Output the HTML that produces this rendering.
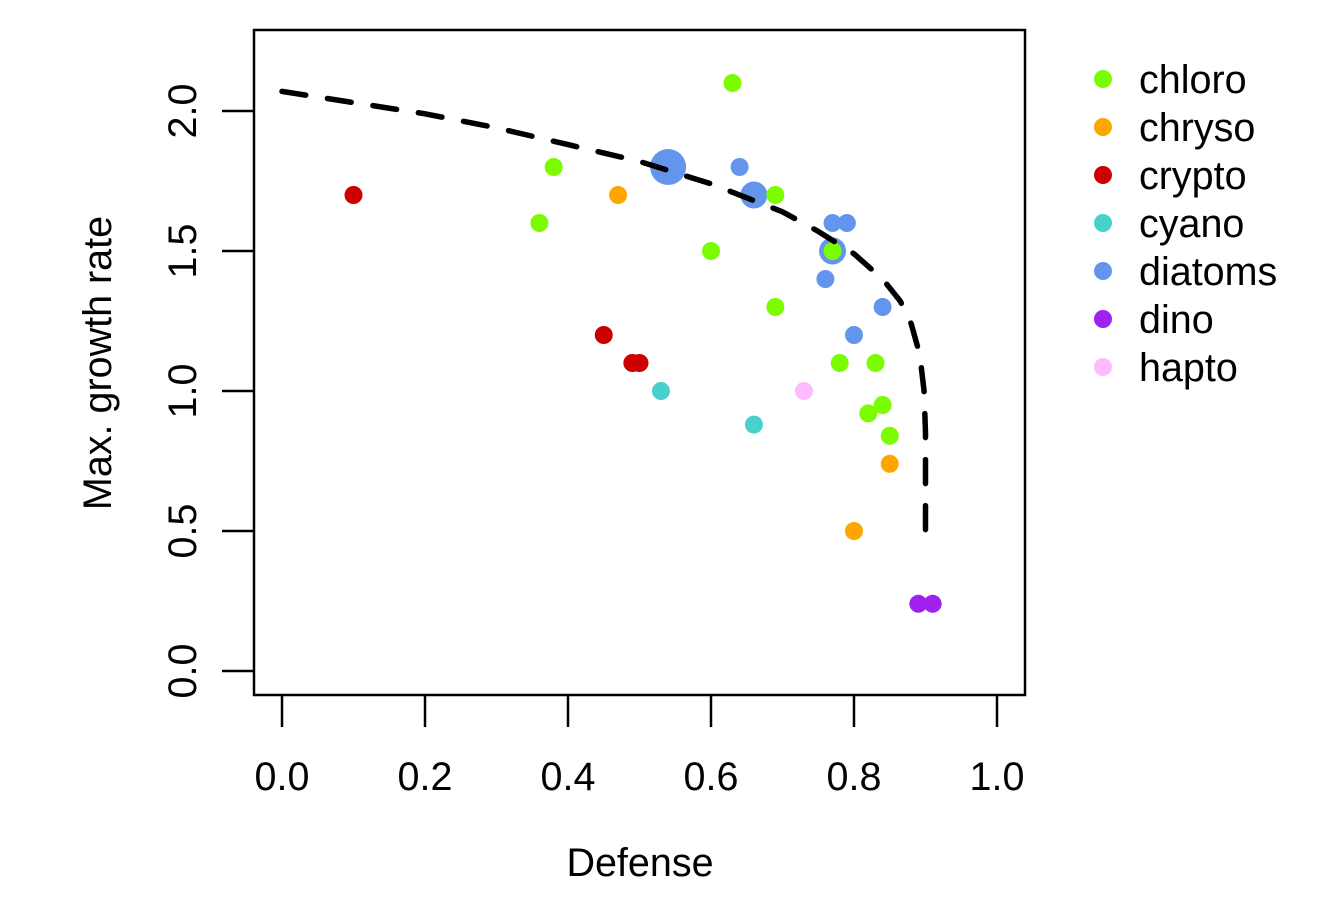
<!DOCTYPE html>
<html><head><meta charset="utf-8"><style>
body{margin:0;background:#fff;}
svg text{font-family:"Liberation Sans",Arial,sans-serif;fill:#000;}
</style></head><body>
<svg id="chart" width="1320" height="906" viewBox="0 0 1320 906" xmlns="http://www.w3.org/2000/svg">
<rect width="1320" height="906" fill="#fff"/>
<g id="marks"></g>
<g id="axes"></g>
<rect x="254" y="30" width="771" height="665" fill="none" stroke="#000" stroke-width="2.5"/>
<text x="640" y="876" font-size="39.5" text-anchor="middle">Defense</text>
<text transform="translate(111,363) rotate(-90)" font-size="39.5" text-anchor="middle">Max. growth rate</text>
<g id="legend"></g>
</svg>
<script>
const groups=["chloro","chryso","crypto","cyano","diatoms","dino","hapto"];
const groupColors=["#7CFC00","#FFA500","#CD0000","#48D1CC","#6495ED","#A020F0","#FFBBFF"];
const diatomX=[0.54,0.66,0.77,0.64,0.77,0.79,0.76,0.80,0.84];
const diatomY=[1.80,1.70,1.50,1.80,1.60,1.60,1.40,1.20,1.30];
const diatomSize=[2,1.5,1.5,1,1,1,1,1,1];
const chloroX=[0.63,0.38,0.36,0.69,0.60,0.77,0.69,0.78,0.83,0.82,0.84,0.85];
const chloroY=[2.10,1.80,1.60,1.70,1.50,1.50,1.30,1.10,1.10,0.92,0.95,0.84];
const chrysoX=[0.47,0.85,0.80];
const chrysoY=[1.70,0.74,0.50];
const cryptoX=[0.10,0.45,0.49,0.50];
const cryptoY=[1.70,1.20,1.10,1.10];
const cyanoX=[0.53,0.66];
const cyanoY=[1.00,0.88];
const dinoX=[0.89,0.91];
const dinoY=[0.24,0.24];
const haptoX=[0.73];
const haptoY=[1.00];
const curveX=[0,0.1,0.2,0.3,0.4,0.5,0.6,0.7,0.75,0.8,0.84,0.865,0.88,0.892,0.898,0.9,0.9];
const curveY=[2.07,2.03,1.99,1.94,1.88,1.82,1.74,1.64,1.57,1.49,1.40,1.32,1.24,1.13,1.00,0.85,0.50];
const xTicks=[0,0.2,0.4,0.6,0.8,1.0];
const xTickLabels=["0.0","0.2","0.4","0.6","0.8","1.0"];
const yTicks=[0,0.5,1.0,1.5,2.0];
const yTickLabels=["0.0","0.5","1.0","1.5","2.0"];

const NS="http://www.w3.org/2000/svg";
const xs=v=>282+v*715;
const ys=v=>671-v*280;
const marks=document.getElementById('marks');
const axes=document.getElementById('axes');
const legend=document.getElementById('legend');
function mk(tag,parent,attrs){const e=document.createElementNS(NS,tag);for(const k in attrs)e.setAttribute(k,attrs[k]);parent.appendChild(e);return e;}
function dot(x,y,r,c,name){
  const e=mk('circle',marks,{cx:xs(x),cy:ys(y),r:r,fill:c});
  
  
}
diatomX.forEach((x,i)=>dot(x,diatomY[i],9*diatomSize[i],groupColors[4],'point-diatoms'));
chloroX.forEach((x,i)=>dot(x,chloroY[i],9,groupColors[0],'point-chloro'));
chrysoX.forEach((x,i)=>dot(x,chrysoY[i],9,groupColors[1],'point-chryso'));
cryptoX.forEach((x,i)=>dot(x,cryptoY[i],9,groupColors[2],'point-crypto'));
cyanoX.forEach((x,i)=>dot(x,cyanoY[i],9,groupColors[3],'point-cyano'));
dinoX.forEach((x,i)=>dot(x,dinoY[i],9,groupColors[5],'point-dino'));
haptoX.forEach((x,i)=>dot(x,haptoY[i],9,groupColors[6],'point-hapto'));

const pts=curveX.map((x,i)=>xs(x)+','+ys(curveY[i])).join(' ');
const curve=mk('polyline',marks,{points:pts,fill:'none',stroke:'#000','stroke-width':5.5,'stroke-dasharray':'24 22','stroke-linecap':'round','stroke-linejoin':'round'});



xTicks.forEach((t,i)=>{
  const l=mk('line',axes,{x1:xs(t),x2:xs(t),y1:695,y2:727,stroke:'#000','stroke-width':2.5});
  
  
  const tx=mk('text',axes,{x:xs(t),y:790,'font-size':39.5,'text-anchor':'middle'});
  tx.textContent=xTickLabels[i];
  
  
});
yTicks.forEach((t,i)=>{
  const l=mk('line',axes,{x1:222,x2:254,y1:ys(t),y2:ys(t),stroke:'#000','stroke-width':2.5});
  
  
  const tx=mk('text',axes,{transform:`translate(196,${ys(t)}) rotate(-90)`,'font-size':39.5,'text-anchor':'middle'});
  tx.textContent=yTickLabels[i];
  
  
});
groups.forEach((g,i)=>{
  const y=79+i*48;
  const c=mk('circle',legend,{cx:1103,cy:y,r:9,fill:groupColors[i]});
  
  
  const t=mk('text',legend,{x:1139,y:y+14,'font-size':39.5});
  t.textContent=g;
  
  
});
</script>
</body></html>
